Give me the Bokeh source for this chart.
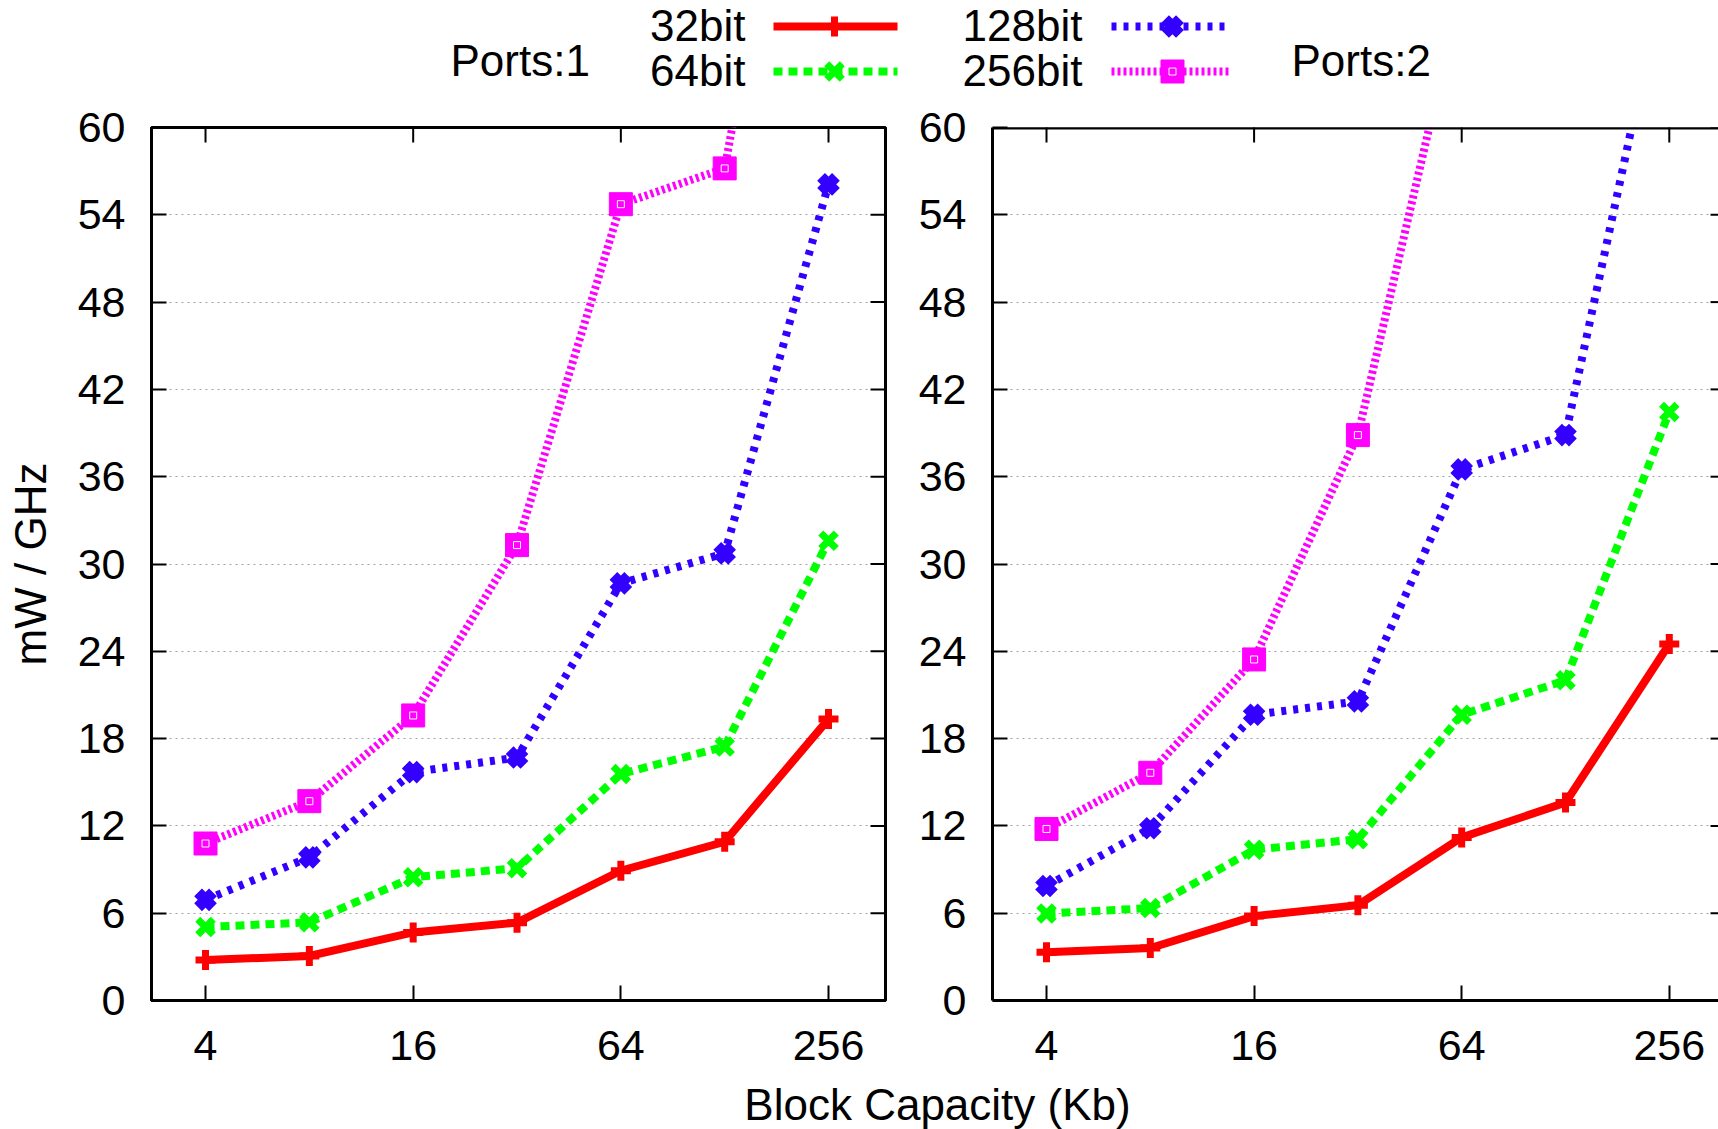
import math
from bokeh.plotting import figure
from bokeh.layouts import column, row
from bokeh.models import Range1d, FixedTicker, NumeralTickFormatter, ColumnDataSource, Span
from bokeh.embed import file_html
from bokeh.resources import INLINE
from bokeh.core.properties import value

NAN = float("nan")

# ---------------- data ----------------
capacity_kb = [4, 8, 16, 32, 64, 128, 256]
series_names = ["32bit", "64bit", "128bit", "256bit"]
panel_titles = ["Ports:1", "Ports:2"]

ports1_32bit = [2.78, 3.06, 4.68, 5.35, 8.92, 10.91, 19.34]
ports1_64bit = [5.05, 5.37, 8.47, 9.09, 15.57, 17.45, 31.6]
ports1_128bit = [6.92, 9.84, 15.7, 16.7, 28.67, 30.73, 56.09]
ports1_256bit = [10.79, 13.7, 19.59, 31.3, 54.73, 57.19, 96.0]

ports2_32bit = [3.31, 3.61, 5.8, 6.55, 11.21, 13.6, 24.5]
ports2_64bit = [5.98, 6.35, 10.36, 11.09, 19.64, 22.01, 40.45]
ports2_128bit = [7.87, 11.84, 19.64, 20.56, 36.5, 38.86, 72.0]
ports2_256bit = [11.79, 15.65, 23.44, 38.86, 69.6, NAN, NAN]

x_tick_values = [4, 16, 64, 256]
y_tick_values = [0, 6, 12, 18, 24, 30, 36, 42, 48, 54, 60]
y_label = "mW / GHz"
x_label = "Block Capacity (Kb)"

# ---------------- styles ----------------
FONT = "Liberation Sans"
TICK_FS = "43px"
TEXT_FS = "44px"

styles = {
    "32bit": dict(color="#ff0000", dash="solid", width=8, marker="cross", msize=20, mlw=7),
    "64bit": dict(color="#00ff00", dash="9 6", width=8, marker="x", msize=22, mlw=7),
    "128bit": dict(color="#3300ff", dash="5 7", width=8, marker="x", msize=21, mlw=11),
    "256bit": dict(color="#ff00ff", dash="3 3", width=8, marker="square", msize=23, mlw=1),
}


def draw_line(p, xs, ys, name):
    st = styles[name]
    p.line(xs, ys, line_color=st["color"], line_width=st["width"],
           line_dash=st["dash"], line_join="miter")


def draw_markers(p, xs, ys, name):
    st = styles[name]
    src = ColumnDataSource(dict(x=xs, y=ys))
    if st["marker"] == "square":
        p.scatter("x", "y", source=src, marker="square", size=st["msize"],
                  fill_color=st["color"], line_color=st["color"], line_width=1)
        p.scatter("x", "y", source=src, marker="square", size=7,
                  fill_color=None, line_color="white", line_width=1)
    else:
        p.scatter("x", "y", source=src, marker=st["marker"], size=st["msize"],
                  line_color=st["color"], fill_color=st["color"], line_width=st["mlw"])


def style_axis(ax):
    ax.axis_line_width = 3
    ax.axis_line_color = "black"
    ax.major_tick_in = 15
    ax.major_tick_out = 0
    ax.major_tick_line_width = 2
    ax.major_tick_line_color = "black"
    ax.minor_tick_line_color = None
    ax.major_label_text_font = FONT
    ax.major_label_text_color = "black"
    ax.major_label_text_font_size = TICK_FS


def make_panel(width, min_left, min_right, x_start, x_end, data, with_ylabel, full_frame):
    p = figure(width=width, height=975, x_axis_type="log",
               x_range=Range1d(x_start, x_end), y_range=Range1d(0, 60),
               output_backend="svg", toolbar_location=None,
               min_border_left=min_left, min_border_right=min_right,
               min_border_top=27, min_border_bottom=75,
               background_fill_color="white", border_fill_color="white")
    if full_frame:
        p.outline_line_color = "black"
        p.outline_line_width = 3
    else:
        p.outline_line_color = None
        p.add_layout(Span(location=60, dimension="width", line_color="black", line_width=3))
        p.line([x_start, x_end], [60, 60], line_color="black", line_width=4)
    # bottom axis
    style_axis(p.xaxis[0])
    p.xaxis[0].ticker = FixedTicker(ticks=x_tick_values)
    p.xaxis[0].formatter = NumeralTickFormatter(format="0")
    p.xaxis[0].major_label_standoff = 30
    # left axis
    style_axis(p.yaxis[0])
    p.yaxis[0].ticker = FixedTicker(ticks=y_tick_values)
    p.yaxis[0].major_label_standoff = 26
    if with_ylabel:
        p.yaxis[0].axis_label = y_label
        p.yaxis[0].axis_label_text_font = FONT
        p.yaxis[0].axis_label_text_font_size = TEXT_FS
        p.yaxis[0].axis_label_text_font_style = "normal"
        p.yaxis[0].axis_label_text_color = "black"
        p.yaxis[0].axis_label_standoff = 20
    # grid
    p.xgrid.grid_line_color = None
    p.ygrid.ticker = FixedTicker(ticks=y_tick_values)
    p.ygrid.grid_line_color = "#a0a0a0"
    p.ygrid.grid_line_width = 1
    p.ygrid.grid_line_dash = "2 4"
    # mirrored inward ticks (half of each dash is clipped by the frame)
    p.scatter(x_tick_values, [60] * len(x_tick_values), marker="dash", angle=math.pi / 2,
              size=30, line_color="black", line_width=2)
    right_tick_size = 30 if full_frame else 16
    p.scatter([x_end] * len(y_tick_values), y_tick_values, marker="dash",
              size=right_tick_size, line_color="black", line_width=2)
    for name, ys in zip(series_names, data):
        draw_line(p, capacity_kb, ys, name)
    for name, ys in zip(series_names, data):
        draw_markers(p, capacity_kb, ys, name)
    return p


left = make_panel(900, 151, 15, 2.789, 374.5,
                  [ports1_32bit, ports1_64bit, ports1_128bit, ports1_256bit],
                  with_ylabel=True, full_frame=True)
right = make_panel(818, 92, 0, 2.789, 355.6,
                   [ports2_32bit, ports2_64bit, ports2_128bit, ports2_256bit],
                   with_ylabel=False, full_frame=False)

# ---------------- legend strip (page-pixel coordinates) ----------------
top = figure(width=1718, height=100, x_range=Range1d(0, 1718), y_range=Range1d(100, 0),
             output_backend="svg", toolbar_location=None, min_border=0,
             x_axis_location=None, y_axis_location=None, outline_line_color=None)
top.grid.visible = False

top.text(x=[450, 1291], y=[60, 60], text=panel_titles, text_font=value(FONT),
         text_font_size=TEXT_FS, text_align="left", text_baseline="middle", text_color="black")

legend_text_right = [745, 745, 1082, 1082]
legend_row_y = [26, 71, 26, 71]
legend_line_x0 = [773, 773, 1111, 1111]
legend_line_x1 = [897, 897, 1230, 1230]
legend_marker_x = [834, 834, 1172, 1172]
top.text(x=legend_text_right, y=[yy - 1 for yy in legend_row_y], text=series_names,
         text_font=value(FONT), text_font_size=TEXT_FS, text_align="right",
         text_baseline="middle", text_color="black")
for i, name in enumerate(series_names):
    draw_line(top, [legend_line_x0[i], legend_line_x1[i]], [legend_row_y[i]] * 2, name)
    draw_markers(top, [legend_marker_x[i]], [legend_row_y[i]], name)

# ---------------- x label strip ----------------
bottom = figure(width=1718, height=54, x_range=Range1d(0, 1718), y_range=Range1d(1129, 1075),
                output_backend="svg", toolbar_location=None, min_border=0,
                x_axis_location=None, y_axis_location=None, outline_line_color=None)
bottom.grid.visible = False
bottom.text(x=[937], y=[1104], text=[x_label], text_font=value(FONT), text_font_size=TEXT_FS,
            text_align="center", text_baseline="middle", text_color="black")

layout = column(top, row(left, right), bottom)
open("out.html", "w").write(file_html(layout, INLINE))
